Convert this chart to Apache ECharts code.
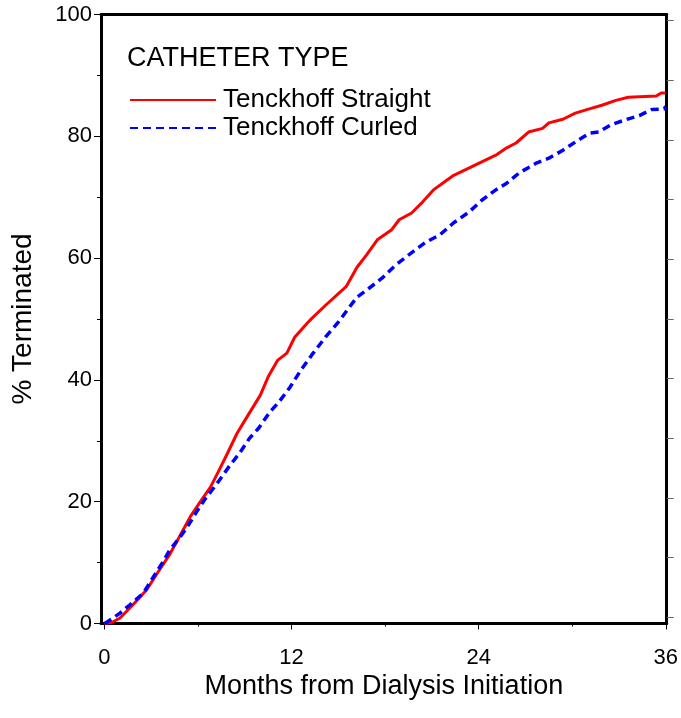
<!DOCTYPE html>
<html>
<head>
<meta charset="utf-8">
<script src="https://cdn.jsdelivr.net/npm/echarts@6/dist/echarts.min.js"></script>
<style>
html,body{margin:0;padding:0;background:#fff;}
#chart{width:681px;height:718px;}
</style>
</head>
<body>
<div id="chart"></div>
<script>
// ---- data ----
const straightMonths = [0,0.5,1.0,1.8,2.7,3.4,4.2,4.8,5.5,6.1,6.8,7.3,7.9,8.5,8.9,9.4,10.0,10.5,11.1,11.7,12.2,13.0,13.3,14.2,15.5,16.2,16.8,17.5,18.4,18.9,19.7,20.4,21.1,21.8,22.4,23.4,24.2,25.1,25.8,26.4,27.2,28.1,28.5,29.4,30.2,31.1,31.9,32.8,33.6,35.4,35.7,36];
const straightPct = [0,0.2,0.9,3.0,5.5,8.3,11.4,14.2,17.5,19.8,22.4,24.9,28.0,31.2,32.9,35.0,37.5,40.5,43.2,44.4,47.0,49.3,50.1,52.3,55.3,58.5,60.5,63.0,64.6,66.3,67.4,69.2,71.2,72.5,73.6,74.8,75.8,76.9,78.1,78.9,80.7,81.3,82.2,82.8,83.8,84.5,85.1,85.9,86.4,86.6,87.1,87.1];
const curledMonths = [0,0.15,1.0,1.6,2.5,3.1,3.7,4.2,4.8,5.3,5.9,6.5,7.2,8.0,8.7,9.3,9.9,10.6,11.2,11.9,12.6,13.3,14.2,15.0,16.2,16.8,17.8,18.7,19.5,20.6,21.5,22.4,23.4,24.2,25.1,25.8,26.6,27.7,28.5,29.4,30.4,31.1,31.7,32.5,33.4,34.3,35.1,35.9,36];
const curledPct = [0,0.2,1.7,3.0,5.0,7.5,9.9,12.1,14.0,15.8,18.3,20.6,22.9,25.8,28.1,30.4,32.1,34.7,36.4,38.8,41.6,44.1,47.1,49.5,53.6,54.7,56.7,58.9,60.5,62.6,63.8,65.8,67.6,69.5,71.2,72.3,74.0,75.6,76.4,77.7,79.4,80.5,80.7,81.9,82.7,83.4,84.4,84.5,84.9];
const xMajorTicks = [0,12,24,36];
const xMinorTicks = [6,18,30];
const rightTicks = [1,10.8,20.6,30.4,40.2,50,59.8,69.6,79.4,89.2,99];
const seriesNames = ['Tenckhoff Straight','Tenckhoff Curled'];
const legendTitle = 'CATHETER TYPE';
const xTitle = 'Months from Dialysis Initiation';
const yTitle = '% Terminated';

const zip = (a,b) => a.map((v,i)=>[v,b[i]]);
const FONT = 'Liberation Sans, Arial, sans-serif';

const chart = echarts.init(document.getElementById('chart'), null, {renderer:'canvas'});
chart.setOption({
  animation:false,
  backgroundColor:'#fff',
  title:{
    text:legendTitle, left:127, top:45, padding:0,
    textStyle:{fontFamily:FONT,fontSize:27,fontWeight:'normal',color:'#000'}
  },
  legend:{
    orient:'vertical', left:129, top:87, padding:0,
    itemWidth:86, itemHeight:14, itemGap:2,
    data:seriesNames,
    itemStyle:{opacity:0},
    textStyle:{fontFamily:FONT,fontSize:26,color:'#000',padding:[0,0,0,2]}
  },
  grid:{left:101, right:13, top:14.5, bottom:94.5},
  xAxis:[
    {
      type:'value', min:-0.22, max:36.06, position:'bottom',
      name:xTitle, nameLocation:'middle', nameGap:41,
      nameTextStyle:{fontFamily:FONT,fontSize:27,color:'#000'},
      axisLine:{show:true,onZero:false,lineStyle:{color:'#000',width:3}},
      axisTick:{show:true,length:6,customValues:xMajorTicks,lineStyle:{color:'#000',width:1}},
      axisLabel:{show:true,customValues:xMajorTicks,margin:23,fontFamily:FONT,fontSize:22,color:'#000'},
      splitLine:{show:false}
    },
    {
      type:'value', min:-0.22, max:36.06, position:'bottom',
      axisLine:{show:false},
      axisTick:{show:true,length:3,customValues:xMinorTicks,lineStyle:{color:'#000',width:1}},
      axisLabel:{show:false},
      splitLine:{show:false}
    },
    {
      type:'value', min:-0.22, max:36.06, position:'top',
      axisLine:{show:true,onZero:false,lineStyle:{color:'#000',width:3}},
      axisTick:{show:false}, axisLabel:{show:false}, splitLine:{show:false}
    }
  ],
  yAxis:[
    {
      type:'value', min:0, max:100, interval:20, position:'left',
      name:yTitle, nameLocation:'middle', nameGap:64, nameRotate:90,
      nameTextStyle:{fontFamily:FONT,fontSize:28,color:'#000'},
      axisLine:{show:true,onZero:false,lineStyle:{color:'#000',width:3}},
      axisTick:{show:true,length:7,lineStyle:{color:'#000',width:1}},
      minorTick:{show:true,splitNumber:2,length:4,lineStyle:{color:'#000',width:1}},
      axisLabel:{margin:9,fontFamily:FONT,fontSize:22,color:'#000'},
      splitLine:{show:false}
    },
    {
      type:'value', min:0, max:100, position:'right',
      axisLine:{show:true,onZero:false,lineStyle:{color:'#000',width:3}},
      axisTick:{show:true,length:7,customValues:rightTicks,lineStyle:{color:'#666',width:1}},
      axisLabel:{show:false}, splitLine:{show:false}
    }
  ],
  series:[
    {
      name:seriesNames[0], type:'line', xAxisIndex:0, yAxisIndex:0,
      data:zip(straightMonths,straightPct),
      symbol:'none', showSymbol:false,
      lineStyle:{color:'#ff0000',width:3,type:'solid'},
      itemStyle:{color:'#ff0000'}
    },
    {
      name:seriesNames[1], type:'line', xAxisIndex:0, yAxisIndex:0,
      data:zip(curledMonths,curledPct),
      symbol:'none', showSymbol:false,
      lineStyle:{color:'#0000ff',width:3.5,type:[8,5]},
      itemStyle:{color:'#0000ff'}
    }
  ]
});
</script>
</body>
</html>
